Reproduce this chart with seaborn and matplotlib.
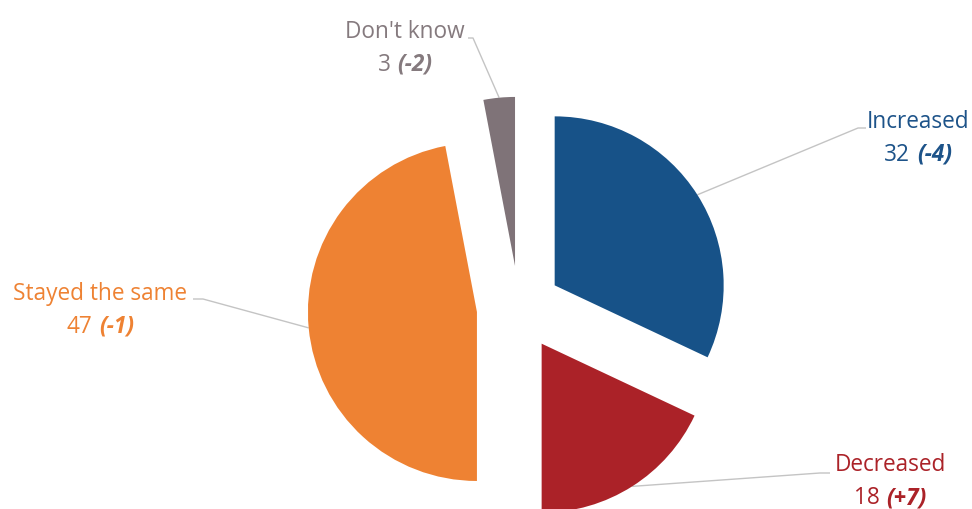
import numpy as np
import matplotlib
matplotlib.use("Agg")
import matplotlib.pyplot as plt
import seaborn as sns

# ---- data ----
categories = ["Increased", "Decreased", "Stayed the same", "Don't know"]
values = [32, 18, 47, 3]
changes = ["-4", "+7", "-1", "-2"]
colors = ["#175288", "#AB2228", "#EE8233", "#7F7378"]
text_colors = ["#1D5389", "#AB2228", "#EE8233", "#857A7E"]

sns.set_theme(style="white")
plt.rcParams["font.family"] = ["Open Sans", "DejaVu Sans"]

W, H = 972, 509
fig = plt.figure(figsize=(W / 100, H / 100), dpi=100)
ax = fig.add_axes([0, 0, 1, 1])

# layout (pixels)
CX, CY, R = 519.0, 308.0, 169.0
EXPLODE = 0.25


def P(x, y):
    return ((x - CX) / R, (CY - y) / R)


palette = sns.color_palette(colors)
wedges, _ = ax.pie(values, colors=palette, startangle=90, counterclock=False,
                   explode=[EXPLODE] * len(values), radius=1.0,
                   wedgeprops=dict(linewidth=0))
ax.set_aspect("auto")
ax.set_xlim((0 - CX) / R, (W - CX) / R)
ax.set_ylim((CY - H) / R, CY / R)
ax.axis("off")

# label layout: (center x px, baseline y px of line 1, elbow x px, label-side x px, elbow y px)
label_pos = {
    "Increased": (918, 128, 858, 866, 128),
    "Decreased": (890, 471, 820, 830, 473),
    "Stayed the same": (100, 300, 203, 193, 299),
    "Don't know": (405, 38, 473, 468, 38),
}

# leader lines
total = sum(values)
start = 90.0
for cat, v in zip(categories, values):
    span = 360.0 * v / total
    mid = np.deg2rad(start - span / 2)
    start -= span
    ox, oy = EXPLODE * np.cos(mid), EXPLODE * np.sin(mid)
    ax_, ay_ = ox + 1.0 * np.cos(mid), oy + 1.0 * np.sin(mid)
    _, _, ex, lx, ey = label_pos[cat]
    e = P(ex, ey)
    l = P(lx, ey)
    ax.plot([ax_, e[0], l[0]], [ay_, e[1], l[1]], color="#C4C4C4", lw=1.0,
            solid_capstyle="butt", clip_on=False, zorder=0.5)

FS = 16.3
LINE2 = 33
fig.canvas.draw()
renderer = fig.canvas.get_renderer()
for cat, v, ch, tc in zip(categories, values, changes, text_colors):
    cx, by, _, _, _ = label_pos[cat]
    x, y = P(cx, by)
    ax.text(x, y, cat, ha="center", va="baseline", fontsize=FS, color=tc,
            clip_on=False)
    x2, y2 = P(cx, by + LINE2)
    t1 = ax.text(x2, y2, f"{v}", ha="left", va="baseline", fontsize=FS,
                 color=tc, clip_on=False)
    t2 = ax.text(x2, y2, f"({ch})", ha="left", va="baseline", fontsize=FS,
                 color=tc, fontweight="bold", fontstyle="italic", clip_on=False)
    w1 = t1.get_window_extent(renderer).width
    w2 = t2.get_window_extent(renderer).width
    gap = 7.0
    wt = w1 + gap + w2
    left = cx - wt / 2
    t1.set_position(P(left, by + LINE2))
    t2.set_position(P(left + w1 + gap, by + LINE2))

fig.savefig("out.png", dpi=100)
